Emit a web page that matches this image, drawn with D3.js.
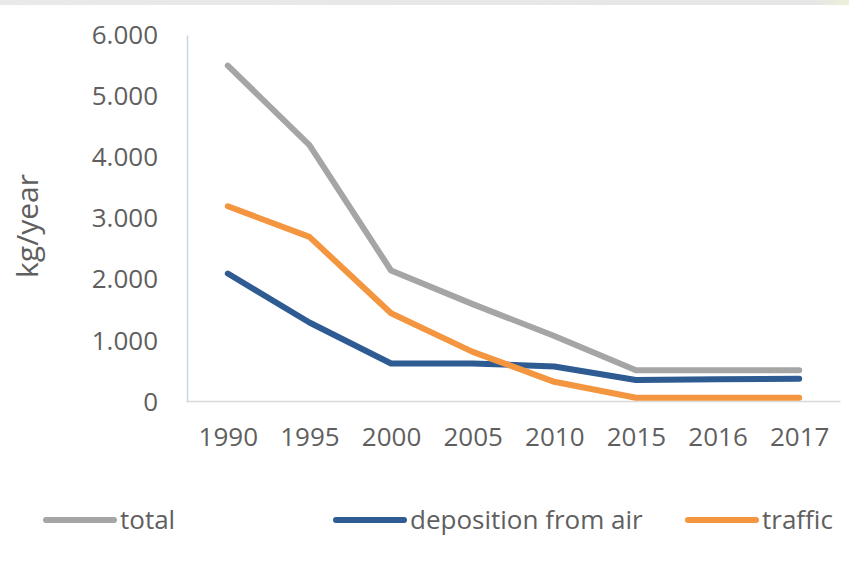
<!DOCTYPE html>
<html>
<head>
<meta charset="utf-8">
<script src="https://cdn.jsdelivr.net/npm/d3@7"></script>
<style>
  html, body { margin: 0; padding: 0; background: #ffffff; }
  svg { display: block; font-family: "Open Sans", "Noto Sans", sans-serif; }
</style>
</head>
<body>
<svg id="chart" width="849" height="584"></svg>
<script>
// Years on the category axis
const years = ["1990", "1995", "2000", "2005", "2010", "2015", "2016", "2017"];

// Loads in kg/year
const total      = [5500, 4200, 2150, 1600, 1080, 520, 520, 520];
const deposition = [2100, 1300, 630, 630, 580, 360, 370, 380];
const traffic    = [3200, 2700, 1450, 820, 330, 70, 70, 70];

const yTicks = [0, 1000, 2000, 3000, 4000, 5000, 6000];

const seriesNames  = ["total", "deposition from air", "traffic"];
const seriesColors = ["#a5a5a5", "#2e5b92", "#f4953f"];
const seriesValues = [total, deposition, traffic];

const svg = d3.select("#chart");
const textColor = "#5f5f5f";

// thin grey band along the top edge
const grad = svg.append("defs").append("linearGradient")
  .attr("id", "topband").attr("x1", 0).attr("x2", 1);
grad.append("stop").attr("offset", "0%").attr("stop-color", "#e9e9e9");
grad.append("stop").attr("offset", "96%").attr("stop-color", "#e6e6e6");
grad.append("stop").attr("offset", "100%").attr("stop-color", "#eef0d8");
svg.append("rect").attr("x", 0).attr("y", 0).attr("width", 849).attr("height", 5)
  .attr("fill", "url(#topband)");

const x = d3.scalePoint().domain(years).range([187, 840]).padding(0.5);
const y = d3.scaleLinear().domain([0, 6000]).range([402, 35]);

const locale = d3.formatLocale({ decimal: ",", thousands: ".", grouping: [3], currency: ["", ""] });
const fmt = locale.format(",");

// value axis
const yAxis = svg.append("g").attr("transform", "translate(187,0)")
  .call(d3.axisLeft(y).tickValues(yTicks).tickFormat(fmt).tickSize(0).tickPadding(29));
yAxis.select(".domain").attr("stroke", "#c8d6e8").attr("stroke-width", 1.5);
yAxis.selectAll("text").attr("fill", textColor).attr("font-size", 26)
  .attr("font-family", "'Open Sans', sans-serif");

// category axis
const xAxis = svg.append("g").attr("transform", "translate(0,401)")
  .call(d3.axisBottom(x).tickSize(0).tickPadding(27));
xAxis.select(".domain").attr("stroke", "#d9d9d9").attr("stroke-width", 1.5);
xAxis.selectAll("text").attr("fill", textColor).attr("font-size", 26)
  .attr("font-family", "'Open Sans', sans-serif");

// y axis title
svg.append("text")
  .attr("transform", "translate(38,226) rotate(-90)")
  .attr("text-anchor", "middle")
  .attr("fill", textColor)
  .attr("font-size", 30)
  .text("kg/year");

// series lines
const line = d3.line()
  .x((d, i) => x(years[i]))
  .y(d => y(d));

svg.append("g").selectAll("path")
  .data(seriesValues)
  .join("path")
  .attr("d", d => line(d))
  .attr("fill", "none")
  .attr("stroke", (d, i) => seriesColors[i])
  .attr("stroke-width", 6)
  .attr("stroke-linecap", "round")
  .attr("stroke-linejoin", "round");

// legend
const legendX = [46, 336, 688];
const legend = svg.append("g").selectAll("g")
  .data(seriesNames)
  .join("g")
  .attr("transform", (d, i) => `translate(${legendX[i]},520)`);
legend.append("line")
  .attr("x1", 0).attr("x2", 68).attr("y1", 0).attr("y2", 0)
  .attr("stroke", (d, i) => seriesColors[i])
  .attr("stroke-width", 6)
  .attr("stroke-linecap", "round");
legend.append("text")
  .attr("x", 74).attr("y", 0).attr("dy", "0.35em")
  .attr("fill", textColor)
  .attr("font-size", 26)
  .text(d => d);
</script>
</body>
</html>
